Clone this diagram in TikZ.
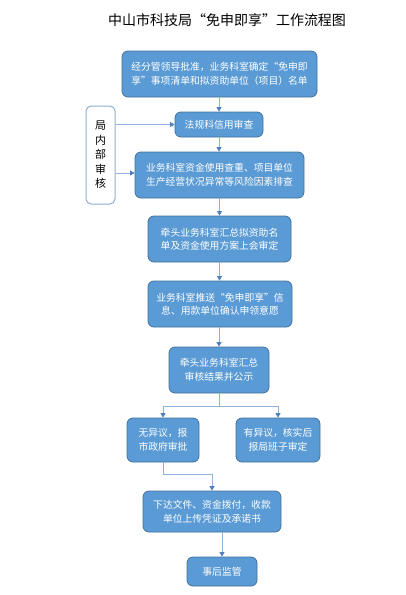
\documentclass[tikz,border=0pt]{standalone}
\usepackage{fontspec}
\setmainfont{Noto Sans CJK SC}
\usepackage{tikz}
\usetikzlibrary{positioning,calc,arrows.meta}
\definecolor{boxblue}{HTML}{5B9BD5}
\definecolor{boxedge}{HTML}{41719C}
\definecolor{sideedge}{HTML}{8EAFD0}
\definecolor{linkblue}{HTML}{8FB2DA}
\definecolor{tipblue}{HTML}{4F81BD}
\tikzset{
stepbox/.style={draw=boxedge,fill=boxblue,line width=0.8pt,rounded corners=6pt,text=white,
align=center,inner sep=2pt,font=\fontsize{9.8}{13.5}\selectfont},
sidebox/.style={draw=sideedge,fill=white,line width=1pt,rounded corners=5pt,text=black,
align=center,inner sep=0pt,font=\fontsize{11}{14.5}\selectfont},
titletext/.style={font=\fontsize{14}{16}\selectfont},
flowline/.style={draw=linkblue,line width=0.8pt},
flowarrow/.style={flowline,-{Triangle[length=4.5pt,width=5pt,color=tipblue]}}
}
\begin{document}
\begin{tikzpicture}[x=1pt,y=-1pt]
\useasboundingbox (0,0) rectangle (405,595);
\node[titletext] (title) at (227,20) {中山市科技局“免申即享”工作流程图};
\node[stepbox,minimum width=195pt,minimum height=46pt] (b1) at (219.5,74)
  {经分管领导批准，业务科室确定“免申即\\享”事项清单和拟资助单位（项目）名单};
\node[stepbox,minimum width=88pt,minimum height=25pt] (b2) at (219,124.5) {法规科信用审查};
\node[stepbox,minimum width=169pt,minimum height=46pt] (b3) at (219.5,175)
  {业务科室资金使用查重、项目单位\\生产经营状况异常等风险因素排查};
\node[sidebox,minimum width=29pt,minimum height=98pt] (side) at (100.5,155) {局\\内\\部\\审\\核};
\node[stepbox,minimum width=143pt,minimum height=46pt] (b4) at (219.5,239)
  {牵头业务科室汇总拟资助名\\单及资金使用方案上会审定};
\node[stepbox,minimum width=144pt,minimum height=46pt] (b5) at (220,304)
  {业务科室推送“免申即享”信\\息、用款单位确认申领意愿};
\node[stepbox,minimum width=100pt,minimum height=46pt] (b6) at (219,370)
  {牵头业务科室汇总\\审核结果并公示};
\node[stepbox,minimum width=72pt,minimum height=44pt] (b7) at (163,440)
  {无异议，报\\市政府审批};
\node[stepbox,minimum width=84pt,minimum height=44pt] (b8) at (278,440)
  {有异议，核实后\\报局班子审定};
\node[stepbox,minimum width=138pt,minimum height=41pt] (b9) at (212,511.5)
  {下达文件、资金拨付，收款\\单位上传凭证及承诺书};
\node[stepbox,minimum width=70pt,minimum height=29pt] (b10) at (222,571.5) {事后监管};
% main column
\draw[flowarrow] (b2.north |- b1.south) -- (b2.north);
\draw[flowarrow] (b2.south) -- (b3.north -| b2.south);
\draw[flowarrow] (b3.south) -- (b4.north);
\draw[flowarrow] (b4.south) -- (b5.north -| b4.south);
\draw[flowarrow] (b6.north |- b5.south) -- (b6.north);
% internal review
\draw[flowarrow] (side.east |- b2.west) -- (b2.west);
\draw[flowarrow] (side.east |- 0,173) -- (b3.west |- 0,173);
% branch
\draw[flowline] (b6.south) -- ++(0,13) coordinate (split);
\draw[flowarrow] (split) -| (b7.north);
\draw[flowarrow] (split) -| (b8.north);
\draw[flowarrow] (b7.south) -- ++(0,12) -| (b9.north);
\draw[flowarrow] (b10.north |- b9.south) -- (b10.north);
\end{tikzpicture}
\end{document}
